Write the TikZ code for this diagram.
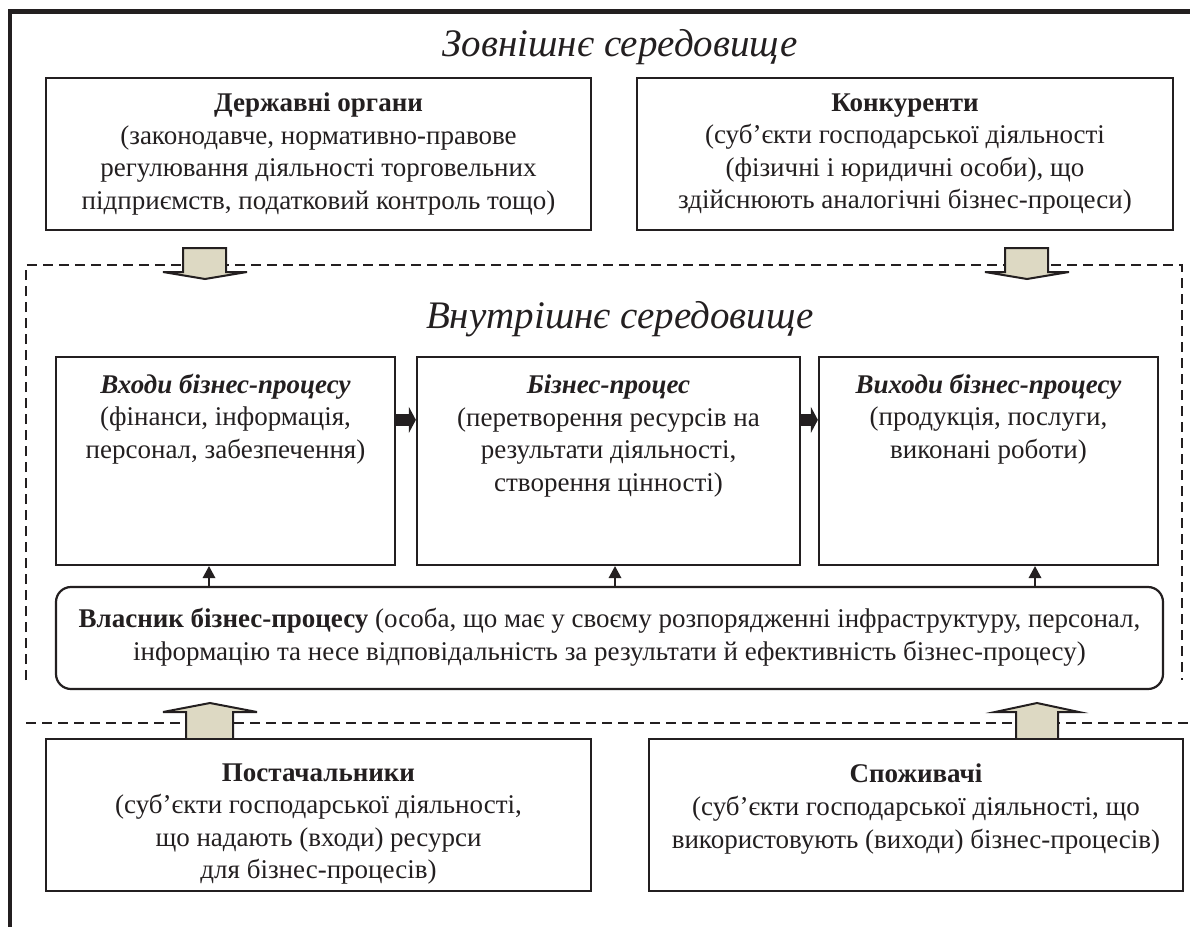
\documentclass[tikz,border=0pt]{standalone}
\usepackage{fontspec}
\setmainfont{Liberation Serif}
\usetikzlibrary{arrows.meta,fit}
\definecolor{ink}{HTML}{231F20}
\definecolor{tan}{HTML}{DDD9C3}
\tikzset{
  box/.style={draw=ink, line width=1.1pt, inner sep=0pt},
  rbox/.style={draw=ink, line width=1.1pt, inner sep=0pt, rounded corners=7.5pt},
  txt/.style={align=center, inner sep=0pt, text=ink, font=\fontsize{13.5}{16.3}\selectfont},
  ttl/.style={inner sep=0pt, text=ink, font=\fontsize{19.5}{23}\selectfont\itshape},
  dashframe/.style={draw=ink, line width=1pt, dash pattern=on 5pt off 3pt},
  barrow/.style={draw=ink, fill=tan, line width=1pt, line join=miter},
  rarr/.style={draw=ink, line width=6pt, -{Triangle[length=3.5pt,width=13pt,line width=0pt]}},
  uparr/.style={draw=ink, line width=1pt, -{Triangle[length=6pt,width=6.5pt,line width=0pt]}},
}
\begin{document}
\begin{tikzpicture}[x=0.5pt,y=-0.5pt]
\useasboundingbox (0,0) rectangle (1190,927);
% outer frame (top and left only)
\draw[ink, line width=2.3pt, line join=miter] (9.8,927) -- (9.8,11.7) -- (1190,11.7);

\node[ttl] (outer) at (620,47) {Зовнішнє середовище};

% top boxes
\node[box, fit={(46,78) (591,230)}] (dz) {};
\node[txt] (dzt) at (318.5,154) {\textbf{Державні органи}\\(законодавче, нормативно-правове\\регулювання діяльності торговельних\\підприємств, податковий контроль тощо)};
\node[box, fit={(637,78) (1173,230)}] (kn) {};
\node[txt] (knt) at (905,154) {\textbf{Конкуренти}\\(суб’єкти господарської діяльності\\(фізичні і юридичні особи), що\\здійснюють аналогічні бізнес-процеси)};

% inner dashed frame
\draw[dashframe] (26,680) -- (26,265) -- (1182,265) -- (1182,680);
\draw[dashframe] (26,723) -- (1190,723);

% down block arrows
\draw[barrow] (183,248) -- (226,248) -- (226,272) -- (247,272) -- (205,279) -- (163,272) -- (183,272) -- cycle;
\draw[barrow] (1005,248) -- (1048,248) -- (1048,272) -- (1069,272) -- (1027,279) -- (985,272) -- (1005,272) -- cycle;

\node[ttl] (inner) at (620,319) {Внутрішнє середовище};

% process boxes
\node[box, fit={(56,357) (395,565)}] (in) {};
\node[txt] (int) at (225.5,419) {\textbf{\textit{Входи бізнес-процесу}}\\(фінанси, інформація,\\персонал, забезпечення)};
\node[box, fit={(417,357) (800,565)}] (bp) {};
\node[txt] (bpt) at (608.5,436) {\textbf{\textit{Бізнес-процес}}\\(перетворення ресурсів на\\результати діяльності,\\створення цінності)};
\node[box, fit={(819,357) (1158,565)}] (out) {};
\node[txt] (outt) at (988.5,419) {\textbf{\textit{Виходи бізнес-процесу}}\\(продукція, послуги,\\виконані роботи)};

\draw[rarr] ([yshift=-32pt]in.north east) -- ([yshift=-32pt]bp.north west);
\draw[rarr] ([yshift=-32pt]bp.north east) -- ([yshift=-32pt]out.north west);

% owner box
\node[rbox, fit={(56,587) (1163,689)}] (own) {};
\node[txt] (ownt) at (609.5,637) {\textbf{Власник бізнес-процесу} (особа, що має у своєму розпорядженні інфраструктуру, персонал,\\інформацію та несе відповідальність за результати й ефективність бізнес-процесу)};

\coordinate (u1) at (209,0);
\coordinate (u2) at (615,0);
\coordinate (u3) at (1035,0);
\draw[uparr] (own.north -| u1) -- (in.south -| u1);
\draw[uparr] (own.north -| u2) -- (bp.south -| u2);
\draw[uparr] (own.north -| u3) -- (out.south -| u3);

% up block arrows
\draw[barrow] (186,739) -- (186,712) -- (163,712) -- (210,703) -- (257,712) -- (233,712) -- (233,739);
\draw[barrow] (1016,739) -- (1016,712) -- (995,712) -- (1037,703) -- (1079,712) -- (1058,712) -- (1058,739);

% bottom boxes
\node[box, fit={(46,739) (591,891)}] (sup) {};
\node[txt] (supt) at (318.5,824) {\textbf{Постачальники}\\(суб’єкти господарської діяльності,\\що надають (входи) ресурси\\для бізнес-процесів)};
\node[box, fit={(649,739) (1183,891)}] (cons) {};
\node[txt] (const) at (916,809) {\textbf{Споживачі}\\(суб’єкти господарської діяльності, що\\використовують (виходи) бізнес-процесів)};
\end{tikzpicture}
\end{document}
